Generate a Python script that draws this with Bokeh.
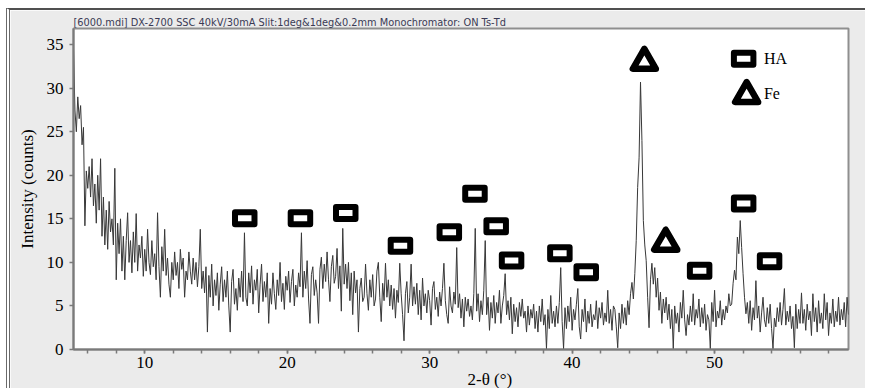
from bokeh.plotting import figure
from bokeh.models import Range1d, SingleIntervalTicker, Title
from bokeh.embed import file_html
from bokeh.resources import INLINE
from bokeh.core.properties import value

# ---- data (0.1 degree scan steps) ----
two_theta = [
    5.0, 5.1, 5.2, 5.3, 5.4, 5.5, 5.6, 5.7, 5.8, 5.9,
    6.0, 6.1, 6.2, 6.3, 6.4, 6.5, 6.6, 6.7, 6.8, 6.9,
    7.0, 7.1, 7.2, 7.3, 7.4, 7.5, 7.6, 7.7, 7.8, 7.9,
    8.0, 8.1, 8.2, 8.3, 8.4, 8.5, 8.6, 8.7, 8.8, 8.9,
    9.0, 9.1, 9.2, 9.3, 9.4, 9.5, 9.6, 9.7, 9.8, 9.9,
    10.0, 10.1, 10.2, 10.3, 10.4, 10.5, 10.6, 10.7, 10.8, 10.9,
    11.0, 11.1, 11.2, 11.3, 11.4, 11.5, 11.6, 11.7, 11.8, 11.9,
    12.0, 12.1, 12.2, 12.3, 12.4, 12.5, 12.6, 12.7, 12.8, 12.9,
    13.0, 13.1, 13.2, 13.3, 13.4, 13.5, 13.6, 13.7, 13.8, 13.9,
    14.0, 14.1, 14.2, 14.3, 14.4, 14.5, 14.6, 14.7, 14.8, 14.9,
    15.0, 15.1, 15.2, 15.3, 15.4, 15.5, 15.6, 15.7, 15.8, 15.9,
    16.0, 16.1, 16.2, 16.3, 16.4, 16.5, 16.6, 16.7, 16.8, 16.9,
    17.0, 17.1, 17.2, 17.3, 17.4, 17.5, 17.6, 17.7, 17.8, 17.9,
    18.0, 18.1, 18.2, 18.3, 18.4, 18.5, 18.6, 18.7, 18.8, 18.9,
    19.0, 19.1, 19.2, 19.3, 19.4, 19.5, 19.6, 19.7, 19.8, 19.9,
    20.0, 20.1, 20.2, 20.3, 20.4, 20.5, 20.6, 20.7, 20.8, 20.9,
    21.0, 21.1, 21.2, 21.3, 21.4, 21.5, 21.6, 21.7, 21.8, 21.9,
    22.0, 22.1, 22.2, 22.3, 22.4, 22.5, 22.6, 22.7, 22.8, 22.9,
    23.0, 23.1, 23.2, 23.3, 23.4, 23.5, 23.6, 23.7, 23.8, 23.9,
    24.0, 24.1, 24.2, 24.3, 24.4, 24.5, 24.6, 24.7, 24.8, 24.9,
    25.0, 25.1, 25.2, 25.3, 25.4, 25.5, 25.6, 25.7, 25.8, 25.9,
    26.0, 26.1, 26.2, 26.3, 26.4, 26.5, 26.6, 26.7, 26.8, 26.9,
    27.0, 27.1, 27.2, 27.3, 27.4, 27.5, 27.6, 27.7, 27.8, 27.9,
    28.0, 28.1, 28.2, 28.3, 28.4, 28.5, 28.6, 28.7, 28.8, 28.9,
    29.0, 29.1, 29.2, 29.3, 29.4, 29.5, 29.6, 29.7, 29.8, 29.9,
    30.0, 30.1, 30.2, 30.3, 30.4, 30.5, 30.6, 30.7, 30.8, 30.9,
    31.0, 31.1, 31.2, 31.3, 31.4, 31.5, 31.6, 31.7, 31.8, 31.9,
    32.0, 32.1, 32.2, 32.3, 32.4, 32.5, 32.6, 32.7, 32.8, 32.9,
    33.0, 33.1, 33.2, 33.3, 33.4, 33.5, 33.6, 33.7, 33.8, 33.9,
    34.0, 34.1, 34.2, 34.3, 34.4, 34.5, 34.6, 34.7, 34.8, 34.9,
    35.0, 35.1, 35.2, 35.3, 35.4, 35.5, 35.6, 35.7, 35.8, 35.9,
    36.0, 36.1, 36.2, 36.3, 36.4, 36.5, 36.6, 36.7, 36.8, 36.9,
    37.0, 37.1, 37.2, 37.3, 37.4, 37.5, 37.6, 37.7, 37.8, 37.9,
    38.0, 38.1, 38.2, 38.3, 38.4, 38.5, 38.6, 38.7, 38.8, 38.9,
    39.0, 39.1, 39.2, 39.3, 39.4, 39.5, 39.6, 39.7, 39.8, 39.9,
    40.0, 40.1, 40.2, 40.3, 40.4, 40.5, 40.6, 40.7, 40.8, 40.9,
    41.0, 41.1, 41.2, 41.3, 41.4, 41.5, 41.6, 41.7, 41.8, 41.9,
    42.0, 42.1, 42.2, 42.3, 42.4, 42.5, 42.6, 42.7, 42.8, 42.9,
    43.0, 43.1, 43.2, 43.3, 43.4, 43.5, 43.6, 43.7, 43.8, 43.9,
    44.0, 44.1, 44.2, 44.3, 44.4, 44.5, 44.6, 44.7, 44.8, 44.9,
    45.0, 45.1, 45.2, 45.3, 45.4, 45.5, 45.6, 45.7, 45.8, 45.9,
    46.0, 46.1, 46.2, 46.3, 46.4, 46.5, 46.6, 46.7, 46.8, 46.9,
    47.0, 47.1, 47.2, 47.3, 47.4, 47.5, 47.6, 47.7, 47.8, 47.9,
    48.0, 48.1, 48.2, 48.3, 48.4, 48.5, 48.6, 48.7, 48.8, 48.9,
    49.0, 49.1, 49.2, 49.3, 49.4, 49.5, 49.6, 49.7, 49.8, 49.9,
    50.0, 50.1, 50.2, 50.3, 50.4, 50.5, 50.6, 50.7, 50.8, 50.9,
    51.0, 51.1, 51.2, 51.3, 51.4, 51.5, 51.6, 51.7, 51.8, 51.9,
    52.0, 52.1, 52.2, 52.3, 52.4, 52.5, 52.6, 52.7, 52.8, 52.9,
    53.0, 53.1, 53.2, 53.3, 53.4, 53.5, 53.6, 53.7, 53.8, 53.9,
    54.0, 54.1, 54.2, 54.3, 54.4, 54.5, 54.6, 54.7, 54.8, 54.9,
    55.0, 55.1, 55.2, 55.3, 55.4, 55.5, 55.6, 55.7, 55.8, 55.9,
    56.0, 56.1, 56.2, 56.3, 56.4, 56.5, 56.6, 56.7, 56.8, 56.9,
    57.0, 57.1, 57.2, 57.3, 57.4, 57.5, 57.6, 57.7, 57.8, 57.9,
    58.0, 58.1, 58.2, 58.3, 58.4, 58.5, 58.6, 58.7, 58.8, 58.9,
    59.0, 59.1, 59.2, 59.3, 59.4,
]
intensity = [
    34.5, 27.5, 25.0, 29.0, 26.5, 28.0, 23.5, 25.5, 14.2, 20.5,
    18.5, 21.0, 17.5, 21.9, 16.5, 19.0, 14.5, 20.0, 16.0, 21.9,
    13.0, 17.5, 12.0, 16.0, 11.5, 17.0, 13.5, 15.0, 12.0, 20.8,
    8.0, 14.5, 11.0, 15.0, 9.0, 13.0, 8.0, 12.5, 15.7, 10.0,
    12.5, 8.8, 13.5, 10.0, 15.6, 9.0, 12.0, 10.5, 13.0, 8.4,
    11.5, 9.0, 13.8, 10.0, 8.6, 12.5, 9.5, 11.0, 8.0, 15.7,
    9.5, 6.0, 11.8, 9.0, 13.8, 8.5, 10.5, 7.5, 6.0, 10.0,
    8.0, 11.2, 8.5, 10.0, 7.0, 11.5, 9.2, 10.5, 6.0, 9.0,
    8.0, 11.2, 9.0, 7.5, 10.5, 8.0, 10.0, 7.2, 9.5, 13.8,
    7.0, 9.0, 6.5, 9.5, 2.0, 8.5, 6.0, 9.8, 5.0, 8.0,
    6.2, 8.8, 4.5, 7.5, 9.5, 5.5, 8.0, 6.0, 9.0, 5.0,
    2.0, 7.8, 9.2, 5.2, 7.0, 4.5, 8.2, 6.0, 9.0, 5.5,
    13.4, 6.0, 5.0, 8.8, 6.5, 9.6, 5.2, 8.0, 6.8, 9.2,
    4.2, 7.5, 9.8, 5.5, 7.8, 6.0, 8.8, 3.0, 7.0, 5.2,
    8.8, 6.4, 4.6, 8.0, 6.2, 10.0, 5.5, 7.6, 4.6, 8.4,
    6.8, 9.0, 5.4, 7.8, 9.2, 5.0, 7.4, 6.0, 8.8, 7.2,
    13.4, 6.0, 9.0, 7.0, 10.2, 5.8, 3.0, 8.6, 9.5, 6.2,
    8.0, 6.5, 3.0, 9.2, 10.6, 7.0, 9.8, 7.8, 11.2, 8.0,
    5.5, 9.5, 10.8, 7.6, 8.4, 11.6, 7.0, 9.6, 4.4, 13.9,
    7.5, 9.8, 7.0, 10.0, 5.6, 8.8, 4.0, 9.0, 6.5, 8.0,
    2.0, 7.0, 8.2, 5.5, 6.0, 9.8, 6.4, 4.5, 8.0, 6.0,
    8.6, 5.0, 5.8, 9.0, 10.0, 6.0, 3.2, 7.6, 5.6, 9.9,
    6.0, 8.0, 5.0, 7.4, 4.6, 7.0, 3.6, 6.8, 5.4, 9.9,
    6.4, 4.0, 1.0, 6.4, 7.8, 4.2, 6.0, 9.8, 5.0, 7.2,
    5.2, 7.6, 4.0, 6.8, 3.4, 8.2, 5.0, 6.4, 4.2, 6.8,
    5.6, 2.8, 7.0, 7.8, 4.6, 6.0, 3.8, 6.6, 5.0, 7.0,
    9.9, 5.6, 4.0, 3.0, 7.2, 5.0, 4.2, 6.6, 5.2, 11.7,
    4.8, 6.4, 3.6, 5.8, 2.6, 6.0, 4.4, 5.8, 3.8, 5.0,
    3.4, 6.4, 13.9, 4.4, 6.4, 3.2, 5.6, 4.0, 6.8, 12.5,
    4.0, 6.0, 2.2, 5.4, 3.6, 6.2, 3.0, 5.4, 4.2, 6.8,
    3.0, 5.0, 6.2, 8.7, 4.0, 5.6, 3.4, 6.0, 1.8, 5.2,
    3.2, 4.8, 2.6, 5.4, 3.8, 5.8, 3.6, 4.4, 2.0, 5.0,
    2.8, 4.6, 3.6, 5.2, 2.4, 4.4, 2.0, 5.0, 3.2, 5.8,
    2.8, 4.0, 0.1, 4.6, 2.4, 6.2, 3.0, 4.4, 2.6, 5.0,
    3.0, 5.4, 9.4, 3.2, 0.1, 4.8, 2.4, 5.0, 3.2, 6.0,
    2.2, 4.6, 3.4, 5.2, 7.0, 2.6, 1.2, 4.6, 3.2, 5.8,
    2.0, 4.4, 3.0, 5.2, 2.6, 4.0, 3.4, 5.6, 2.4, 4.8,
    3.6, 5.4, 2.8, 4.2, 3.2, 6.8, 3.0, 4.6, 2.2, 5.0,
    4.6, 2.6, 0.2, 4.2, 2.4, 5.2, 3.0, 4.8, 2.8, 5.6,
    4.0, 6.4, 7.7, 5.8, 8.7, 12.5, 18.6, 22.0, 30.7, 24.0,
    14.8, 12.0, 10.2, 6.0, 2.5, 8.0, 9.9, 7.5, 9.4, 6.0,
    8.2, 4.5, 6.6, 3.0, 5.8, 4.2, 6.0, 3.4, 5.2, 2.4,
    4.6, 0.1, 5.0, 3.0, 4.2, 2.0, 5.4, 3.6, 6.8, 3.4,
    1.6, 4.0, 2.8, 5.0, 3.2, 6.4, 2.8, 4.6, 3.6, 5.8,
    2.6, 4.8, 3.0, 5.2, 2.2, 4.0, 3.4, 0.1, 5.4, 3.2,
    6.8, 2.6, 4.4, 3.6, 5.6, 2.8, 4.6, 3.4, 5.0, 4.2,
    6.4, 5.0, 5.2, 7.6, 9.1, 8.0, 12.9, 11.0, 14.8, 11.7,
    8.7, 6.0, 4.1, 5.4, 3.0, 5.6, 2.2, 4.8, 3.4, 7.9,
    3.6, 5.0, 2.0, 4.2, 6.0, 3.4, 2.6, 4.8, 3.0, 5.2,
    2.4, 0.1, 3.6, 2.6, 4.8, 3.2, 5.4, 2.8, 4.6, 7.0,
    2.8, 4.4, 3.2, 5.0, 2.4, 3.8, 0.2, 5.2, 2.4, 4.6,
    3.0, 6.5, 3.0, 4.6, 2.2, 5.2, 3.4, 4.4, 1.6, 6.4,
    3.2, 4.8, 2.0, 5.6, 3.0, 4.2, 2.4, 6.4, 3.4, 5.4,
    1.6, 4.2, 3.0, 5.8, 2.6, 4.4, 3.2, 6.0, 2.8, 4.6,
    3.4, 5.4, 2.6, 6.0, 4.0,
]

# phase marks (HA = square, Fe = triangle)
ha_theta = [17.02, 20.93, 24.11, 27.95, 31.38, 33.18, 34.67, 35.75, 39.14, 40.99, 48.95, 52.04, 53.86]
ha_level = [15.06, 15.06, 15.66, 11.90, 13.46, 17.88, 14.14, 10.23, 11.04, 8.87, 9.03, 16.75, 10.12]
fe_theta = [45.07, 46.57]
fe_level = [32.99, 12.22]

legend_labels = ["HA", "Fe"]
legend_mark_theta = [52.04, 52.25]
legend_mark_level = [33.39, 29.17]
legend_text_theta = [53.46, 53.46]
legend_text_level = [33.40, 29.40]

header_text = "[6000.mdi] DX-2700 SSC 40kV/30mA Slit:1deg&1deg&0.2mm Monochromator: ON Ts-Td"
x_title = "2-θ (°)"
y_title = "Intensity (counts)"

SERIF = "Liberation Serif"

p = figure(
    width=859, height=380,
    x_range=Range1d(5.0, 59.4), y_range=Range1d(0, 36.85),
    output_backend="svg", toolbar_location=None,
    min_border_left=63, min_border_right=21, min_border_top=18, min_border_bottom=41,
    background_fill_color="white", border_fill_color="#ebebeb",
)
p.margin = (8, 0, 0, 6)
p.styles = {"border-top": "2px solid #505050", "border-left": "4px double #6a6a6a"}
p.grid.visible = False
p.outline_line_color = "#8f8f8f"
p.outline_line_width = 2

# header strip
p.title.text = header_text
p.title.align = "left"
p.title.offset = 0
p.title.standoff = 2
p.title.text_font = "DejaVu Sans"
p.title.text_font_size = "9.8px"
p.title.text_font_style = "normal"
p.title.text_color = "#3a3a55"

# axes
p.xaxis.ticker = SingleIntervalTicker(interval=10, num_minor_ticks=5)
p.yaxis.ticker = SingleIntervalTicker(interval=5, num_minor_ticks=0)
for ax in (p.xaxis[0], p.yaxis[0]):
    ax.axis_line_color = "#7a7a7a"
    ax.axis_line_width = 2
    ax.major_tick_line_color = "#7a7a7a"
    ax.minor_tick_line_color = "#7a7a7a"
    ax.major_tick_line_width = 1.5
    ax.minor_tick_line_width = 1.5
    ax.major_tick_in = 0
    ax.major_tick_out = 4
    ax.minor_tick_in = 0
    ax.minor_tick_out = 4
    ax.major_label_text_font = SERIF
    ax.major_label_text_font_size = "17px"
    ax.major_label_text_color = "black"
p.yaxis.minor_tick_line_color = None
p.yaxis.major_label_standoff = 6
p.xaxis.major_label_standoff = 3
p.yaxis.axis_label = y_title
p.yaxis.axis_label_text_font = SERIF
p.yaxis.axis_label_text_font_size = "17px"
p.yaxis.axis_label_text_font_style = "normal"
p.yaxis.axis_label_text_color = "black"
p.yaxis.axis_label_standoff = 7

# x axis title, placed right of centre as in the reference
p.add_layout(Title(text=x_title, align="left", offset=394, standoff=-6,
                   text_font=SERIF, text_font_size="17px", text_font_style="normal",
                   text_color="black"), "below")

# diffraction trace
p.line(two_theta, intensity, line_color="#383838", line_width=1.0)

# phase marks
p.rect(x=ha_theta, y=ha_level, width=19.5, height=12,
       width_units="screen", height_units="screen",
       fill_color="white", line_color="black", line_width=6, line_join="round")
p.scatter(x=fe_theta, y=fe_level, marker="triangle", size=23,
          fill_color="white", line_color="black", line_width=6.5, line_join="round")

# legend (drawn marks + labels)
p.rect(x=legend_mark_theta[:1], y=legend_mark_level[:1], width=19.5, height=12,
       width_units="screen", height_units="screen",
       fill_color="white", line_color="black", line_width=6, line_join="round")
p.scatter(x=legend_mark_theta[1:], y=legend_mark_level[1:], marker="triangle", size=23,
          fill_color="white", line_color="black", line_width=6.5, line_join="round")
p.text(x=legend_text_theta, y=legend_text_level, text=legend_labels,
       text_font=value(SERIF), text_font_size="16px",
       text_align="left", text_baseline="alphabetic", text_color="black")

open("out.html", "w").write(file_html(p, INLINE))
